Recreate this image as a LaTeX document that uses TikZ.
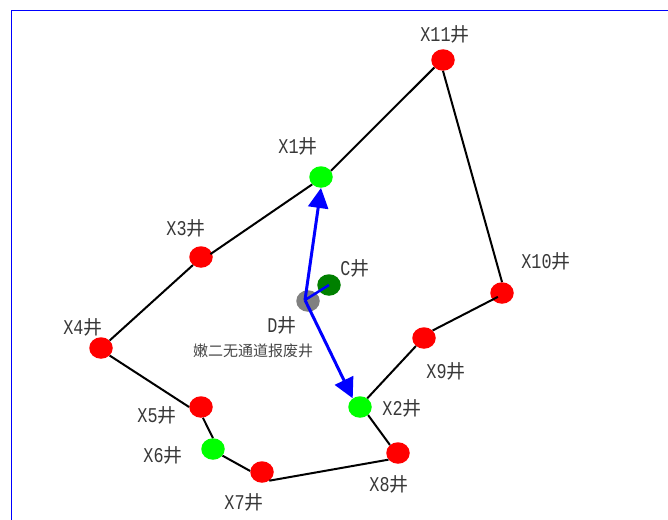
\documentclass[tikz,border=0pt]{standalone}
\usepackage{fontspec}
\usepackage{xcolor}
\usetikzlibrary{arrows.meta,shapes.geometric}
\setmainfont{Liberation Mono}
\newfontfamily\latinfont[FakeStretch=0.8]{Liberation Mono}
\newfontfamily\cjkfont{Noto Sans CJK SC}
\newcommand{\jing}{{\cjkfont\fontsize{19}{19}\selectfont 井}}
\begin{document}
\begin{tikzpicture}[
    x=1pt, y=-1pt,
    jingdian/.style={draw=none, ellipse, inner sep=0pt, minimum width=23.5pt, minimum height=21.5pt},
    baofei/.style={jingdian, fill=red},
    zhuru/.style={jingdian, fill=green},
    biaozhu/.style={font=\latinfont\fontsize{21}{21}\selectfont, text=black!78, inner sep=0pt},
    shuoming/.style={font=\cjkfont\fontsize{15}{15}\selectfont, text=black!72, inner sep=0pt},
    bian/.style={line width=2pt, black},
    liuxiang/.style={-{Triangle[length=20pt, width=20pt]}, line width=3pt, blue}
]
    \useasboundingbox (0,0) rectangle (668,519);
    \coordinate (zuoxia) at (11,530);
    \coordinate (zuoshang) at (11,11);
    \coordinate (youshang) at (680,11);
    \draw[blue, line width=1pt] (zuoxia) -- (zuoshang) -- (youshang);

    \node[baofei] (x11) at (443,60) {};
    \node[zhuru] (x1) at (321,177) {};
    \node[baofei] (x3) at (201,257) {};
    \node[baofei] (x4) at (101,348) {};
    \node[baofei] (x5) at (201,407) {};
    \node[zhuru] (x6) at (213,449) {};
    \node[baofei] (x7) at (262,472) {};
    \node[baofei] (x8) at (398,453) {};
    \node[zhuru] (x2) at (360,407) {};
    \node[baofei] (x9) at (424,338) {};
    \node[baofei] (x10) at (502,293) {};
    \node[jingdian, fill=green!50!black] (c) at (329,285) {};
    \node[jingdian, fill=gray] (d) at (308,301) {};
    \coordinate (dqi) at (305,300);

    \node[biaozhu] (lx11) at (445,34) {X11\jing};
    \node[biaozhu] (lx1) at (298,146) {X1\jing};
    \node[biaozhu] (lx3) at (186,228) {X3\jing};
    \node[biaozhu] (lx4) at (83,327) {X4\jing};
    \node[biaozhu] (lx5) at (157,415) {X5\jing};
    \node[biaozhu] (lx6) at (163,455) {X6\jing};
    \node[biaozhu] (lx7) at (244,502) {X7\jing};
    \node[biaozhu] (lx8) at (389,484) {X8\jing};
    \node[biaozhu] (lx2) at (402,408) {X2\jing};
    \node[biaozhu] (lx9) at (446,371) {X9\jing};
    \node[biaozhu] (lx10) at (546,261) {X10\jing};
    \node[biaozhu] (lc) at (355,268) {C\jing};
    \node[biaozhu] (ld) at (282,325) {D\jing};
    \node[shuoming] (ldsm) at (253,351) {嫩二无通道报废井};

    \draw[bian] (x11.221) -- (x1.32);
    \draw[bian, shorten >=-2pt] (x1.220) -- (x3.20);
    \draw[bian] (x3.225) -- (x4.41);
    \draw[bian] (x4.-41) -- (x5.180);
    \draw[bian] (x5.280) -- (x6.90);
    \draw[bian] (x6.-35) -- (x7.175);
    \draw[bian] (x7.-50) -- (x8.215);
    \draw[bian] (x8.135) -- (x2.-45);
    \draw[bian] (x2.50) -- (x9.225);
    \draw[bian, shorten >=-6pt] (x9.41) -- (x10.215);
    \draw[bian] (x10.90) -- (x11.270);

    \draw[liuxiang] (dqi) -- (x1.270);
    \draw[liuxiang] (dqi) -- (x2.130);
    \draw[blue, line width=2.5pt] (c.center) -- (dqi);
\end{tikzpicture}
\end{document}
